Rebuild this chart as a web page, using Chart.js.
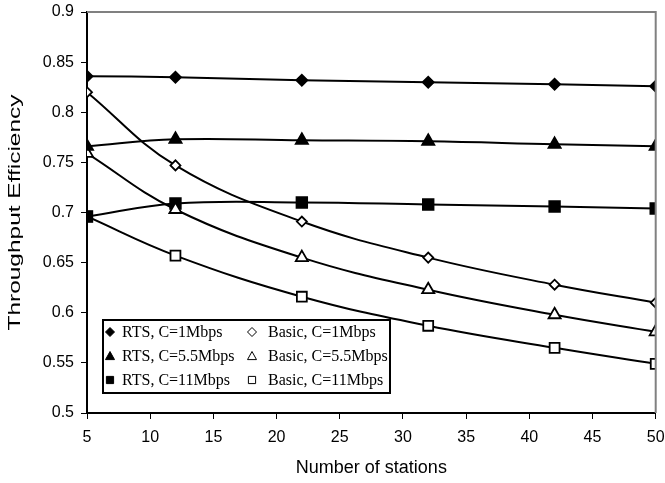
<!DOCTYPE html>
<html>
<head>
<meta charset="utf-8">
<script src="https://cdn.jsdelivr.net/npm/chart.js@4"></script>
<style>
  html, body { margin: 0; padding: 0; background: #fff; }
  #wrap { width: 665px; height: 483px; }
</style>
</head>
<body>
<div id="wrap"><canvas id="grafico" width="665" height="483"></canvas></div>
<script>
// estacoes no eixo x
const estacoes = [5, 12, 22, 32, 42, 50];

// eficiencia
const rts1 = [0.836, 0.835, 0.832, 0.830, 0.828, 0.826];
const basic1 = [0.820, 0.747, 0.691, 0.655, 0.628, 0.610];
const rts55 = [0.766, 0.773, 0.772, 0.771, 0.768, 0.766];
const basic55 = [0.759, 0.703, 0.655, 0.623, 0.598, 0.581];
const rts11 = [0.696, 0.709, 0.710, 0.708, 0.706, 0.704];
const basic11 = [0.696, 0.657, 0.616, 0.587, 0.565, 0.549];

const xTicks = [5, 10, 15, 20, 25, 30, 35, 40, 45, 50];
const yTickLabels = ['0.5', '0.55', '0.6', '0.65', '0.7', '0.75', '0.8', '0.85', '0.9'];

const nomes = ['RTS, C=1Mbps', 'Basic, C=1Mbps', 'RTS, C=5.5Mbps', 'Basic, C=5.5Mbps', 'RTS, C=11Mbps', 'Basic, C=11Mbps'];
const series = [rts1, basic1, rts55, basic55, rts11, basic11];
const estilos = ['rectRot', 'rectRot', 'triangle', 'triangle', 'rect', 'rect'];
const cheios = [true, false, true, false, true, false];
const raios = [5.5, 5, 7, 7, 7.5, 7];

function pontos(vals) {
    return estacoes.map((x, i) => ({ x: x, y: vals[i] }));
}

const datasets = series.map((vals, i) => ({
    label: nomes[i],
    data: pontos(vals),
    borderColor: '#000',
    borderWidth: 2,
    backgroundColor: cheios[i] ? '#000' : '#fff',
    pointStyle: estilos[i],
    pointRadius: raios[i],
    pointBorderWidth: 1.8,
    pointBorderColor: '#000',
    pointBackgroundColor: cheios[i] ? '#000' : '#fff',
    tension: 0.4,
    fill: false
}));

function drawMarker(c, estilo, x, y, r) {
    if (estilo === 'rectRot') {
        c.moveTo(x, y - r); c.lineTo(x + r, y); c.lineTo(x, y + r); c.lineTo(x - r, y); c.closePath();
    } else if (estilo === 'triangle') {
        c.moveTo(x, y - r); c.lineTo(x + r, y + r * 0.8); c.lineTo(x - r, y + r * 0.8); c.closePath();
    } else {
        c.rect(x - r * 0.8, y - r * 0.8, r * 1.6, r * 1.6);
    }
}

// borda cinza, titulo do eixo y e legenda dentro da area
const moldura = {
    id: 'moldura',
    afterDraw(chart) {
        const c = chart.ctx;
        const a = chart.chartArea;
        c.save();
        c.strokeStyle = '#808080';
        c.lineWidth = 2;
        c.beginPath();
        c.moveTo(a.left, a.top);
        c.lineTo(a.right, a.top);
        c.lineTo(a.right, a.bottom);
        c.stroke();

        // titulo do eixo y (esticado como no original)
        const titulo = 'Throughput Efficiency';
        c.font = '17px "Liberation Sans", Arial, sans-serif';
        const w = c.measureText(titulo).width;
        c.save();
        c.translate(15, (a.top + a.bottom) / 2);
        c.rotate(-Math.PI / 2);
        c.scale(236 / w, 1);
        c.fillStyle = '#000';
        c.textAlign = 'center';
        c.textBaseline = 'middle';
        c.fillText(titulo, 0, 0);
        c.restore();

        // legenda
        const bx = 103, by = 320, bw = 287, bh = 73;
        c.fillStyle = '#fff';
        c.fillRect(bx, by, bw, bh);
        c.strokeStyle = '#000';
        c.lineWidth = 2;
        c.strokeRect(bx, by, bw, bh);
        c.font = '16px "Liberation Serif", "Times New Roman", serif';
        c.textBaseline = 'middle';
        c.textAlign = 'left';
        const colX = [110, 252];
        const txtX = [122, 268];
        const rowY = [332, 356, 380];
        for (let i = 0; i < nomes.length; i++) {
            const col = i % 2, row = Math.floor(i / 2);
            const ds = chart.data.datasets[i];
            c.lineWidth = 1;
            c.fillStyle = cheios[i] ? '#000' : '#fff';
            c.strokeStyle = '#000';
            c.beginPath();
            drawMarker(c, ds.pointStyle, colX[col], rowY[row], 4.5);
            c.fill();
            c.stroke();
            c.fillStyle = '#000';
            c.fillText(nomes[i], txtX[col], rowY[row] + 1);
        }
        c.restore();
    }
};

const fonteEixo = { family: '"Liberation Sans", Arial, sans-serif', size: 16 };

const ctx = document.getElementById('grafico').getContext('2d');
const grafico = new Chart(ctx, {
    type: 'line',
    data: { datasets: datasets },
    plugins: [moldura],
    options: {
        responsive: false,
        animation: false,
        layout: { padding: { top: 12, right: 8, left: 0, bottom: 0 } },
        scales: {
            x: {
                type: 'linear',
                min: 5,
                max: 50,
                afterBuildTicks(scale) {
                    scale.ticks = xTicks.map(v => ({ value: v }));
                },
                afterFit(scale) {
                    scale.height = 70;
                    scale.paddingLeft = 0;
                    scale.paddingRight = 0;
                },
                ticks: { color: '#000', font: fonteEixo, padding: 9, maxRotation: 0 },
                grid: { drawOnChartArea: false, tickLength: 6, color: '#000' },
                border: { color: '#000', width: 2 },
                title: {
                    display: true,
                    text: 'Number of stations',
                    color: '#000',
                    font: { family: '"Liberation Sans", Arial, sans-serif', size: 18 },
                    padding: { top: 8 }
                }
            },
            y: {
                min: 0.5,
                max: 0.9,
                afterBuildTicks(scale) {
                    scale.ticks = yTickLabels.map(t => ({ value: parseFloat(t) }));
                },
                afterFit(scale) {
                    scale.width = 87;
                    scale.paddingTop = 0;
                    scale.paddingBottom = 0;
                },
                ticks: {
                    color: '#000',
                    font: fonteEixo,
                    padding: 7,
                    callback: (v, i) => yTickLabels[i]
                },
                grid: { drawOnChartArea: false, tickLength: 6, color: '#000' },
                border: { color: '#000', width: 2 }
            }
        },
        plugins: {
            legend: { display: false },
            tooltip: { enabled: false }
        }
    }
});
</script>
</body>
</html>
